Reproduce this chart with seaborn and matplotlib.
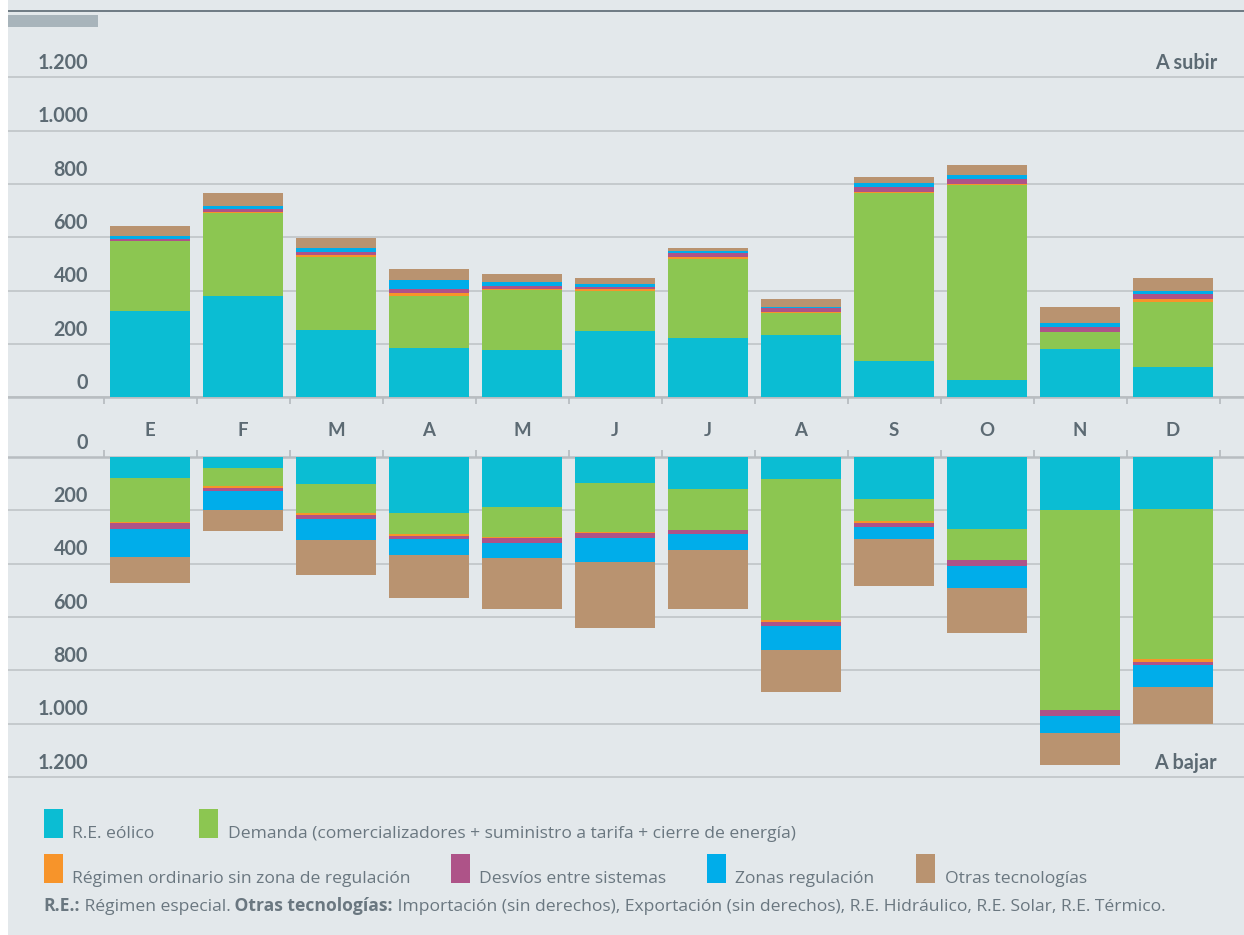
import matplotlib
matplotlib.use("Agg")
import matplotlib.pyplot as plt
from matplotlib.patches import Rectangle
import numpy as np
import pandas as pd
import seaborn as sns

# ---------------- data ----------------
months = ["E", "F", "M", "A", "M", "J", "J", "A", "S", "O", "N", "D"]
series = ["R.E. eólico",
          "Demanda (comercializadores + suministro a tarifa + cierre de energía)",
          "Régimen ordinario sin zona de regulación",
          "Desvíos entre sistemas",
          "Zonas regulación",
          "Otras tecnologías"]

up_eolico = [325, 382, 254, 186, 179, 250, 224, 235, 138, 66, 182, 115]
up_demanda = [261, 309, 273, 196, 225, 149, 295, 83, 627, 729, 64, 244]
up_ordinario = [1, 4, 6, 10, 2, 6, 6, 1, 4, 4, 1, 11]
up_desvios = [7, 11, 12, 15, 11, 10, 15, 15, 19, 19, 16, 19]
up_zonas = [12, 12, 15, 34, 15, 11, 11, 5, 15, 17, 15, 11]
up_otras = [38, 47, 37, 41, 30, 22, 10, 29, 25, 37, 62, 49]

dn_eolico = [79, 41, 101, 210, 187, 97, 120, 82, 157, 270, 199, 195]
dn_demanda = [165, 68, 110, 79, 112, 184, 154, 529, 84, 115, 749, 562]
dn_ordinario = [3, 6, 6, 6, 3, 5, 1, 7, 6, 1, 1, 11]
dn_desvios = [22, 12, 15, 12, 19, 16, 15, 15, 15, 22, 22, 11]
dn_zonas = [105, 71, 79, 60, 56, 91, 60, 89, 45, 84, 65, 82]
dn_otras = [100, 81, 130, 160, 194, 250, 221, 158, 175, 168, 119, 141]

y_ticks = [0, 200, 400, 600, 800, 1000, 1200]
y_tick_labels = ["0", "200", "400", "600", "800", "1.000", "1.200"]

footnote = [("R.E.:", "bold"),
            (" Régimen especial.", "normal"),
            (" Otras tecnologías:", "bold"),
            (" Importación (sin derechos), Exportación (sin derechos), R.E. Hidráulico, R.E. Solar, R.E. Térmico.", "normal")]

colors = ["#0bbdd3", "#8cc651", "#f7942a", "#ae5388", "#00adea", "#b99370"]

# ---------------- style ----------------
sns.set_style("white")
plt.rcParams["font.family"] = ["Lato", "DejaVu Sans"]
LEG_FONT = ["Open Sans", "DejaVu Sans"]
LEG_SIZE = 12.6
BG = "#e3e8eb"
LABEL = "#5c6a73"
TXT = "#6a7780"
GRID = "#c2c7ca"

W, H = 1244, 935
fig = plt.figure(figsize=(W / 100, H / 100), dpi=100, facecolor=BG)


def fx(px):
    return px / W


def fy(py):
    return 1 - py / H


UPP = 3.75  # units per pixel
x_left = (8 - 150) / 93
x_right = (1244 - 150) / 93

# upper axes: 0 at y=397.5 px, top spine at y=11 px
ax1 = fig.add_axes([fx(8), fy(397.5), fx(1244 - 8), (397.5 - 11) / H])
# lower axes: 0 at y=457 px, down to y=790 px
ax2 = fig.add_axes([fx(8), fy(790), fx(1244 - 8), (790 - 457) / H])

idx = list(range(len(months)))


def stacked(ax, layers):
    cum = np.cumsum(np.array(layers, dtype=float), axis=0)
    for k in range(len(layers) - 1, -1, -1):
        df = pd.DataFrame({"mes": idx, "valor": cum[k]})
        sns.barplot(data=df, x="mes", y="valor", color=colors[k], saturation=1,
                    width=0.86, linewidth=0, errorbar=None, ax=ax, zorder=3)


stacked(ax1, [up_eolico, up_demanda, up_ordinario, up_desvios, up_zonas, up_otras])
stacked(ax2, [dn_eolico, dn_demanda, dn_ordinario, dn_desvios, dn_zonas, dn_otras])

ax1.set_ylim(0, (397.5 - 11) * UPP)
ax2.set_ylim((790 - 457) * UPP, 0)

bounds = [i - 0.5 for i in range(len(months) + 1)]
for ax in (ax1, ax2):
    ax.set_facecolor("none")
    ax.set_xlim(x_left, x_right)
    ax.set_xlabel("")
    ax.set_ylabel("")
    ax.set_yticks(y_ticks)
    ax.set_yticklabels([])
    ax.tick_params(axis="y", length=0)
    ax.grid(axis="y", color=GRID, linewidth=1.3)
    ax.grid(axis="x", visible=False)
    ax.set_axisbelow(True)
    ax.set_xticks(bounds)
    ax.set_xticklabels([])
    for s in ("left", "right"):
        ax.spines[s].set_visible(False)

ax1.spines["bottom"].set_color("#b8bdc1")
ax1.spines["bottom"].set_linewidth(1.8)
ax1.spines["top"].set_color("#5b6872")
ax1.spines["top"].set_linewidth(1.2)
ax1.tick_params(axis="x", direction="out", length=5, width=1.3, color="#b8bdc1",
                bottom=True, top=False)

ax2.spines["bottom"].set_visible(False)
ax2.spines["top"].set_color("#b8bdc1")
ax2.spines["top"].set_linewidth(1.8)
ax2.tick_params(axis="x", direction="out", length=5, width=1.3, color="#b8bdc1",
                bottom=False, top=True, labelbottom=False, labeltop=False)

# y tick labels above gridlines
lab_x = (88 - 150) / 93
for ax in (ax1, ax2):
    for v, t in zip(y_ticks, y_tick_labels):
        ax.annotate(t, xy=(lab_x, v), xytext=(0, 6), textcoords="offset points",
                    ha="right", va="baseline", fontsize=14.2, fontweight="bold",
                    color=LABEL, annotation_clip=False)

side_x = (1217 - 150) / 93
ax1.annotate("A subir", xy=(side_x, 1200), xytext=(0, 6), textcoords="offset points",
             ha="right", va="baseline", fontsize=14.2, fontweight="bold", color=LABEL)
ax2.annotate("A bajar", xy=(side_x, 1200), xytext=(0, 6), textcoords="offset points",
             ha="right", va="baseline", fontsize=14.2, fontweight="bold", color=LABEL)

# month labels
for i, m in enumerate(months):
    ax2.annotate(m, xy=(i, 0), xytext=(0, 15.1), textcoords="offset points",
                 ha="center", va="baseline", fontsize=13.4, fontweight="bold",
                 color=LABEL, annotation_clip=False)

# decorations: white strip on left, grey tab at top
fig.add_artist(Rectangle((0, 0), fx(8), 1, transform=fig.transFigure,
                         facecolor="white", edgecolor="none"))
fig.add_artist(Rectangle((fx(8), fy(27)), fx(90), 12 / H, transform=fig.transFigure,
                         facecolor="#a8b4bb", edgecolor="none"))

# legend
legend_items = [
    (44, 809, 0, 72),
    (199, 809, 1, 228),
    (44, 854, 2, 72),
    (451, 854, 3, 479),
    (707, 854, 4, 735),
    (916, 854, 5, 945),
]
for px, py, k, tx in legend_items:
    fig.add_artist(Rectangle((fx(px), fy(py + 29)), fx(19), 29 / H,
                             transform=fig.transFigure, facecolor=colors[k],
                             edgecolor="none"))
    fig.text(fx(tx), fy(py + 29), series[k], ha="left", va="baseline",
             fontsize=LEG_SIZE, color=TXT, family=LEG_FONT)

# footnote with mixed weights
renderer = fig.canvas.get_renderer()
cur = fx(43)
for txt, wgt in footnote:
    t = fig.text(cur, fy(911), txt, ha="left", va="baseline", fontsize=LEG_SIZE,
                 fontweight=wgt, color=TXT, family=LEG_FONT)
    bb = t.get_window_extent(renderer=renderer)
    cur = bb.x1 / W

fig.savefig("out.png", dpi=100, facecolor=BG)
